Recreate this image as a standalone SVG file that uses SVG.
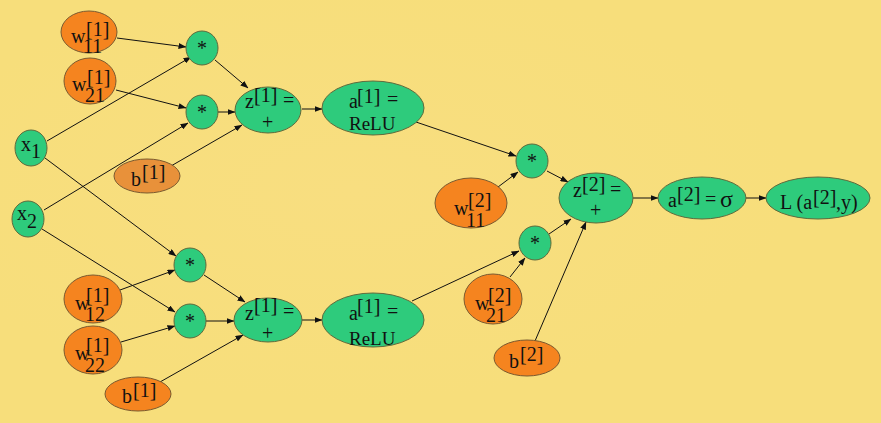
<svg xmlns="http://www.w3.org/2000/svg" width="881" height="423" viewBox="0 0 881 423">
<defs>
<marker id="ah" markerWidth="8" markerHeight="6" refX="7.5" refY="3" orient="auto" markerUnits="userSpaceOnUse">
<path d="M0,0 L8,3 L0,6 Z" fill="#111"/>
</marker>
<radialGradient id="bg" cx="0.4" cy="0.45" r="0.5">
<stop offset="0" stop-color="#F8DE80"/>
<stop offset="1" stop-color="#F7DE7B"/>
</radialGradient>
</defs>
<style>
.g{fill:#2ECB7C;stroke:#5F6A3C;stroke-width:1}
.o{fill:#F5841F;stroke:#7A5A30;stroke-width:1}
.ob{fill:#E8913A;stroke:#7A5A30;stroke-width:1}
.t{font-family:"Liberation Serif","Times New Roman",serif;font-size:20px;fill:#111}
.r{font-size:19px}
.c line{stroke:#111;stroke-width:1;marker-end:url(#ah)}
</style>
<rect width="881" height="423" fill="url(#bg)"/>

<g class="c" id="connectors">
<line x1="117" y1="38" x2="186" y2="47"/>
<line x1="47" y1="141" x2="191" y2="57"/>
<line x1="116" y1="90" x2="186" y2="108"/>
<line x1="44" y1="210" x2="188" y2="123"/>
<line x1="171" y1="166" x2="242" y2="125"/>
<line x1="215" y1="60" x2="248" y2="88"/>
<line x1="218" y1="112" x2="235" y2="112"/>
<line x1="302" y1="109" x2="322" y2="109"/>
<line x1="416" y1="122" x2="516" y2="156"/>
<line x1="45" y1="158" x2="176" y2="256"/>
<line x1="42" y1="229" x2="175" y2="312"/>
<line x1="120" y1="290" x2="175" y2="270"/>
<line x1="121" y1="342" x2="175" y2="326"/>
<line x1="204" y1="275" x2="245" y2="302"/>
<line x1="206" y1="321" x2="234" y2="321"/>
<line x1="160" y1="382" x2="243" y2="335"/>
<line x1="302" y1="320" x2="322" y2="320"/>
<line x1="412" y1="301" x2="519" y2="251"/>
<line x1="498" y1="187" x2="518" y2="172"/>
<line x1="510" y1="277" x2="525" y2="258"/>
<line x1="547" y1="171" x2="568" y2="182"/>
<line x1="549" y1="234" x2="571" y2="219"/>
<line x1="535" y1="341" x2="586" y2="222"/>
<line x1="633" y1="198" x2="658" y2="198"/>
<line x1="746" y1="198" x2="766" y2="198"/>
</g>

<g id="w11_1"><ellipse class="o" cx="89" cy="32" rx="28" ry="21"/>
<text class="t"><tspan x="71" y="43">w</tspan><tspan x="86" y="36">[1]</tspan><tspan x="83" y="53">11</tspan></text></g>
<g id="w21_1"><ellipse class="o" cx="90" cy="81" rx="26" ry="23"/>
<text class="t"><tspan x="72" y="91">w</tspan><tspan x="87" y="84">[1]</tspan><tspan x="85" y="102">21</tspan></text></g>
<g id="x1"><ellipse class="g" cx="31" cy="148" rx="16" ry="18"/>
<text class="t"><tspan x="21" y="151">x</tspan><tspan x="31" y="158">1</tspan></text></g>
<g id="b1_top"><ellipse class="ob" cx="147" cy="176" rx="33" ry="17"/>
<text class="t"><tspan x="131" y="186">b</tspan><tspan x="142" y="179">[1]</tspan></text></g>
<g id="mul1"><ellipse class="g" cx="202" cy="48" rx="16" ry="17"/>
<text class="t" x="202" y="55" text-anchor="middle">*</text></g>
<g id="mul2"><ellipse class="g" cx="202" cy="112" rx="16" ry="17"/>
<text class="t" x="202" y="119" text-anchor="middle">*</text></g>
<g id="z1_top"><ellipse class="g" cx="268" cy="110" rx="33" ry="23"/>
<text class="t"><tspan x="245" y="108">z</tspan><tspan x="254" y="102">[1]</tspan><tspan x="283" y="107">=</tspan><tspan x="262" y="129">+</tspan></text></g>
<g id="a1_top"><ellipse class="g" cx="373" cy="108" rx="51" ry="27"/>
<text class="t"><tspan x="349" y="108">a</tspan><tspan x="357" y="103">[1]</tspan><tspan x="387" y="106">=</tspan><tspan class="r" x="349" y="130">ReLU</tspan></text></g>

<g id="x2"><ellipse class="g" cx="28" cy="219" rx="16" ry="18"/>
<text class="t"><tspan x="17" y="220">x</tspan><tspan x="27" y="228">2</tspan></text></g>
<g id="mul3"><ellipse class="g" cx="190" cy="265" rx="16" ry="17"/>
<text class="t" x="190" y="272" text-anchor="middle">*</text></g>
<g id="mul4"><ellipse class="g" cx="190" cy="321" rx="16" ry="17"/>
<text class="t" x="190" y="328" text-anchor="middle">*</text></g>
<g id="w12_1"><ellipse class="o" cx="93" cy="299" rx="29" ry="24"/>
<text class="t"><tspan x="75" y="310">w</tspan><tspan x="86" y="302">[1]</tspan><tspan x="85" y="321">12</tspan></text></g>
<g id="w22_1"><ellipse class="o" cx="93" cy="350" rx="29" ry="24"/>
<text class="t"><tspan x="75" y="360">w</tspan><tspan x="86" y="352">[1]</tspan><tspan x="85" y="372">22</tspan></text></g>
<g id="b1_bot"><ellipse class="o" cx="138" cy="394" rx="33" ry="17"/>
<text class="t"><tspan x="122" y="403">b</tspan><tspan x="133" y="397">[1]</tspan></text></g>
<g id="z1_bot"><ellipse class="g" cx="268" cy="320" rx="34" ry="22"/>
<text class="t"><tspan x="245" y="320">z</tspan><tspan x="254" y="312">[1]</tspan><tspan x="283" y="318">=</tspan><tspan x="262" y="340">+</tspan></text></g>
<g id="a1_bot"><ellipse class="g" cx="373" cy="320" rx="51" ry="27"/>
<text class="t"><tspan x="349" y="320">a</tspan><tspan x="357" y="313">[1]</tspan><tspan x="387" y="318">=</tspan><tspan class="r" x="349" y="345">ReLU</tspan></text></g>

<g id="mul5"><ellipse class="g" cx="532" cy="161" rx="16" ry="17"/>
<text class="t" x="532" y="168" text-anchor="middle">*</text></g>
<g id="w11_2"><ellipse class="o" cx="471" cy="203" rx="36" ry="25"/>
<text class="t"><tspan x="454" y="215">w</tspan><tspan x="468" y="207">[2]</tspan><tspan x="466" y="227">11</tspan></text></g>
<g id="mul6"><ellipse class="g" cx="535" cy="243" rx="16" ry="17"/>
<text class="t" x="535" y="250" text-anchor="middle">*</text></g>
<g id="w21_2"><ellipse class="o" cx="493" cy="299" rx="29" ry="25"/>
<text class="t"><tspan x="475" y="310">w</tspan><tspan x="488" y="302">[2]</tspan><tspan x="486" y="322">21</tspan></text></g>
<g id="b2"><ellipse class="o" cx="527" cy="358" rx="33" ry="18"/>
<text class="t"><tspan x="509" y="368">b</tspan><tspan x="520" y="361">[2]</tspan></text></g>
<g id="z2"><ellipse class="g" cx="596" cy="198" rx="37" ry="25"/>
<text class="t"><tspan x="573" y="197">z</tspan><tspan x="582" y="191">[2]</tspan><tspan x="610" y="196">=</tspan><tspan x="590" y="217">+</tspan></text></g>
<g id="a2"><ellipse class="g" cx="702" cy="198" rx="44" ry="21"/>
<text class="t"><tspan x="668" y="207">a</tspan><tspan x="677" y="201">[2]</tspan><tspan x="705" y="206">=</tspan><tspan x="720" y="207" font-size="24">σ</tspan></text></g>
<g id="loss"><ellipse class="g" cx="818" cy="198" rx="52" ry="21"/>
<text class="t"><tspan x="780" y="209">L (a</tspan><tspan x="813" y="204">[2]</tspan><tspan x="836" y="209">,y)</tspan></text></g>
</svg>
